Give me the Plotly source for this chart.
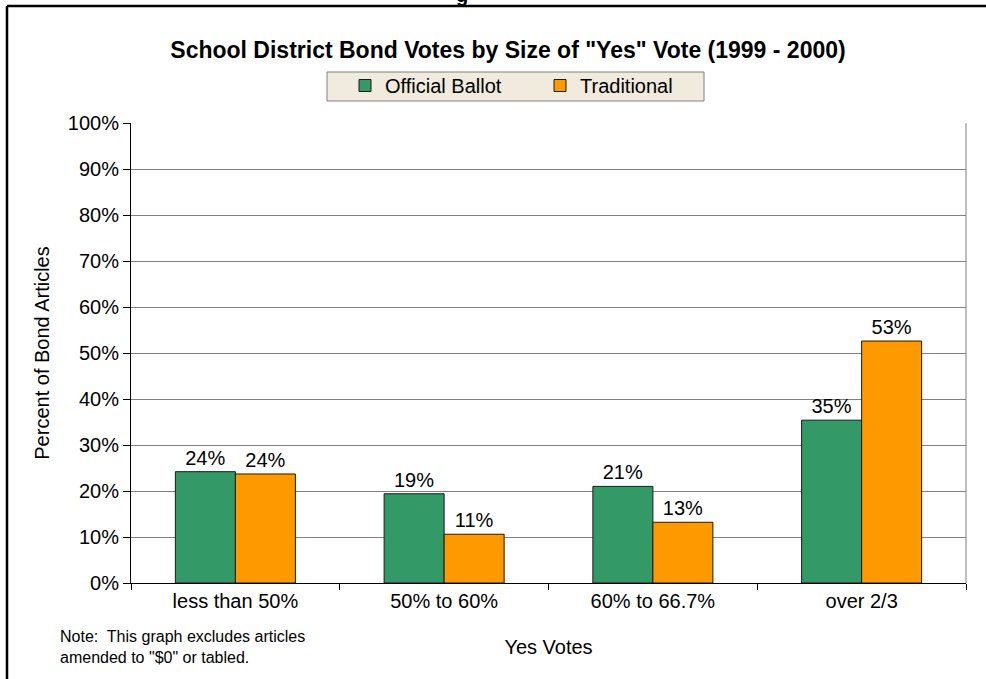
import plotly.graph_objects as go

categories = ["less than 50%", "50% to 60%", "60% to 66.7%", "over 2/3"]
official_ballot = [24.2, 19.4, 21.0, 35.4]
traditional = [23.7, 10.6, 13.2, 52.6]
series_names = ["Official Ballot", "Traditional"]
y_ticks = [0, 10, 20, 30, 40, 50, 60, 70, 80, 90, 100]
y_tick_labels = [f"{v}%" for v in y_ticks]

W, H = 986, 679
L, R, T, B = 131, 20, 123, 96
PW, PH = W - L - R, H - T - B
FONT = "Arial, 'Liberation Sans', sans-serif"


def px(x):
    return (x - L) / PW


def py(y):
    return (H - B - y) / PH


fig = go.Figure()
fig.add_trace(go.Bar(
    x=categories, y=official_ballot, name=series_names[0],
    marker=dict(color="#339966", line=dict(color="#1a1a1a", width=1)),
    texttemplate="%{y:.0f}%", textposition="outside",
    textfont=dict(size=20, color="black", family=FONT),
    cliponaxis=False,
))
fig.add_trace(go.Bar(
    x=categories, y=traditional, name=series_names[1],
    marker=dict(color="#FF9900", line=dict(color="#1a1a1a", width=1)),
    texttemplate="%{y:.0f}%", textposition="outside",
    textfont=dict(size=20, color="black", family=FONT),
    cliponaxis=False,
))

fig.update_layout(
    width=W, height=H,
    margin=dict(l=L, r=R, t=T, b=B, pad=0),
    paper_bgcolor="white", plot_bgcolor="white",
    font=dict(family=FONT, size=20, color="black"),
    barmode="group", bargap=0.425, bargroupgap=0,
    showlegend=True,
    legend=dict(
        orientation="h", x=px(345), y=py(66), xanchor="left", yanchor="top",
        bgcolor="rgba(0,0,0,0)", borderwidth=0,
        font=dict(size=20, family=FONT, color="black"),
        itemwidth=30, entrywidth=150,
    ),
    title=dict(
        text='<b>School District Bond Votes by Size of "Yes" Vote (1999 - 2000)</b>',
        x=px(508), xref="paper", xanchor="center",
        y=1 - 50 / H, yref="container", yanchor="middle",
        font=dict(size=23, family=FONT, color="black"),
    ),
    xaxis=dict(
        showline=True, linecolor="black", linewidth=1,
        ticks="outside", ticklen=6, tickcolor="black", tickson="boundaries",
        showgrid=False, tickfont=dict(size=20),
        title=dict(text="Yes Votes", font=dict(size=20), standoff=28),
    ),
    yaxis=dict(
        range=[0, 100], tickvals=y_ticks, ticktext=y_tick_labels,
        showline=True, linecolor="black", linewidth=1,
        ticks="outside", ticklen=7, tickcolor="black",
        showgrid=True, gridcolor="#808080", gridwidth=1,
        zeroline=False, tickfont=dict(size=20),
        title=dict(text="Percent of Bond Articles", font=dict(size=20), standoff=12),
    ),
)

# legend box
fig.add_shape(type="rect", xref="paper", yref="paper",
              x0=px(327), y0=py(72), x1=px(704), y1=py(101),
              fillcolor="#F0EBDC", line=dict(color="#808080", width=1), layer="below")
# outer chart frame (cropped at right and bottom)
fig.add_shape(type="line", xref="paper", yref="paper",
              x0=px(7), y0=py(6), x1=px(1010), y1=py(6),
              line=dict(color="black", width=2.5))
fig.add_shape(type="line", xref="paper", yref="paper",
              x0=px(7), y0=py(6), x1=px(7), y1=py(700),
              line=dict(color="black", width=2.5))
# right plot-area border
fig.add_shape(type="line", xref="paper", yref="paper",
              x0=1, y0=0, x1=1, y1=1, line=dict(color="#808080", width=1))

fig.add_annotation(
    text="Note:  This graph excludes articles<br>amended to \"$0\" or tabled.",
    xref="paper", yref="paper", x=px(58), y=py(626), xanchor="left", yanchor="top",
    align="left", showarrow=False, font=dict(size=16, family=FONT, color="black"),
)
# cropped top heading fragment
fig.add_annotation(
    text="<b>g</b>", xref="paper", yref="paper", x=px(462), y=py(8),
    xanchor="center", yanchor="bottom", showarrow=False,
    font=dict(size=20, family=FONT, color="black"),
)

fig.write_html("out.html")
